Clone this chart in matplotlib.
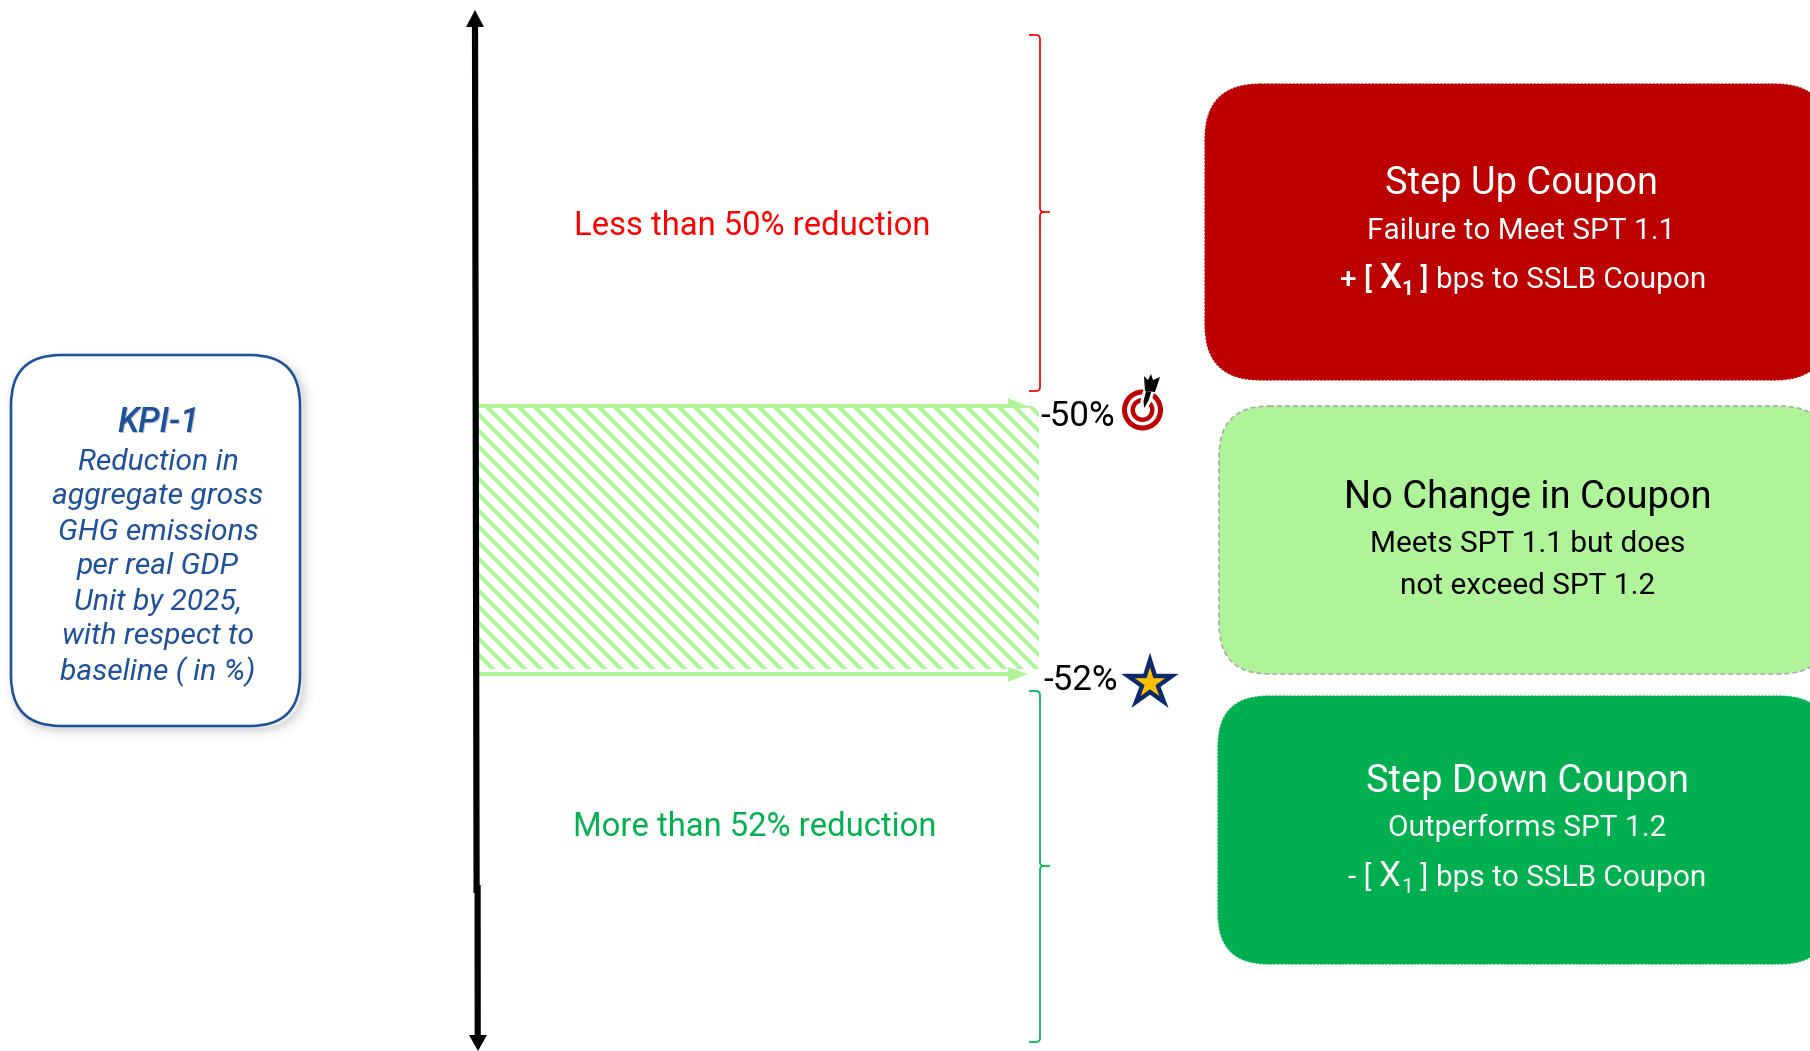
import numpy as np
import matplotlib
matplotlib.use("Agg")
import matplotlib.pyplot as plt
from matplotlib.markers import MarkerStyle
from matplotlib.patches import Circle, FancyBboxPatch, PathPatch, Polygon, Rectangle
from matplotlib.path import Path

# Reduction thresholds and their labels
thresholds = [-50, -52]
threshold_labels = ["-50%", "-52%"]
zone_labels = ["Less than 50% reduction", "More than 52% reduction"]

kpi_title = "KPI-1"
kpi_lines = ["Reduction in", "aggregate gross", "GHG emissions", "per real GDP",
             "Unit by 2025,", "with respect to", "baseline ( in %)"]

card_titles = ["Step Up Coupon", "No Change in Coupon", "Step Down Coupon"]
card_lines = ["Failure to Meet SPT 1.1", ["Meets SPT 1.1 but does", "not exceed SPT 1.2"], "Outperforms SPT 1.2"]

RED, BRIGHT_RED, PALE_GREEN, GREEN, BLUE, NAVY, GOLD = (
    "#BC0000", "#FF0000", "#AFF498", "#00B050", "#1F5199", "#0F2A6B", "#FFC000")

FONT = "Roboto"
plt.rcParams["font.family"] = FONT
plt.rcParams["hatch.linewidth"] = 3.0

DPI = 96
W, H = 1810, 1051
fig = plt.figure(figsize=(W / DPI, H / DPI), dpi=DPI, facecolor="white")
ax = fig.add_axes([0, 0, 1, 1])
ax.set_xlim(0, W)
ax.set_ylim(H, 0)
ax.axis("off")


def px(v):
    return v * 72 / DPI


def y_of(pct):
    # Vertical scale of the reduction axis
    return 406 + (pct - thresholds[0]) * (672 - 406) / (thresholds[1] - thresholds[0])


def card(x0, y0, x1, y1, r, face, edge=None, **kw):
    p = FancyBboxPatch((x0 + r, y0 + r), x1 - x0 - 2 * r, y1 - y0 - 2 * r,
                       boxstyle=f"round,pad={r},rounding_size={r}",
                       fc=face, ec=edge or face, **kw)
    ax.add_patch(p)
    return p


def runs(cx, y, pieces):
    # Lays out text pieces side by side, centred on cx
    renderer = fig.canvas.get_renderer()
    items, total = [], 0
    for s, size, weight, dy, color in pieces:
        t = ax.text(0, y + dy, s, fontsize=px(size), fontweight=weight, color=color,
                    va="baseline", ha="left")
        w = t.get_window_extent(renderer).width
        items.append((t, w))
        total += w
    x = cx - total / 2
    for t, w in items:
        t.set_x(x)
        x += w


# KPI box with a soft drop shadow
for i in range(8, 0, -1):
    card(12, 358, 304 + i * 0.5, 729 + i * 0.6, 50, "#808080", alpha=0.014, lw=i * 1.4, zorder=1)
card(11, 355, 300, 726, 50, "white", BLUE, lw=px(2.6), zorder=2)

ax.text(159.5, 423.5, kpi_title, color="#9aa5b5", fontsize=px(34.5), style="italic", fontweight="medium",
        ha="center", va="center", alpha=0.7, zorder=3)
ax.text(158, 422, kpi_title, color=BLUE, fontsize=px(34.5), style="italic", fontweight="medium",
        ha="center", va="center", zorder=3)
for i, line in enumerate(kpi_lines):
    ax.text(158, 461.5 + i * 35, line, color=BLUE, fontsize=px(30), style="italic",
            ha="center", va="center", zorder=3)

# Hatched band between the two thresholds
y_top, y_bot = y_of(thresholds[0]), y_of(thresholds[1])
ax.add_patch(Rectangle((479, y_top), 1039 - 479, y_bot - y_top - 3, fc="white", ec=PALE_GREEN,
                       hatch="\\\\", lw=0, zorder=1))
ax.fill_between([479, 1012], y_top - 2, y_top + 2, color=PALE_GREEN, lw=0, zorder=2)
ax.fill_between([479, 1012], y_bot, y_bot + 4, color=PALE_GREEN, lw=0, zorder=2)
ax.add_patch(Polygon([(1008, y_top - 8), (1032, y_top + 2), (1008, y_top + 2)], fc=PALE_GREEN, ec="none", zorder=2))
ax.add_patch(Polygon([(1008, y_bot - 5), (1028, y_bot + 2), (1008, y_bot + 10)], fc=PALE_GREEN, ec="none", zorder=2))

# Main vertical double arrow, built from two slightly offset strokes
ax.plot([475, 476.6], [24, 893], color="black", lw=px(6.2), solid_capstyle="butt", zorder=4)
ax.plot([477.6, 477.7], [885, 1038], color="black", lw=px(6.2), solid_capstyle="butt", zorder=4)
ax.add_patch(Polygon([(475, 10), (484, 27), (466, 27)], fc="black", ec="none", zorder=4))
ax.add_patch(Polygon([(478, 1051), (487, 1035), (469, 1035)], fc="black", ec="none", zorder=4))


def brace(y0, ym, y1, color):
    x, hook, tick, r = 1040, 1029, 1050, 4
    verts = [(hook, y0), (x - r, y0), (x, y0), (x, y0 + r), (x, ym - r), (x, ym), (x + r, ym), (tick, ym),
             (x + r, ym), (x, ym), (x, ym + r), (x, y1 - r), (x, y1), (x - r, y1), (hook, y1)]
    codes = [Path.MOVETO, Path.LINETO, Path.CURVE3, Path.CURVE3, Path.LINETO, Path.CURVE3, Path.CURVE3, Path.LINETO,
             Path.MOVETO, Path.CURVE3, Path.CURVE3, Path.LINETO, Path.CURVE3, Path.CURVE3, Path.LINETO]
    ax.add_patch(PathPatch(Path(verts, codes), fc="none", ec=color, lw=px(1.7), zorder=3))


brace(35, 212, 391, BRIGHT_RED)
brace(691, 866, 1042, GREEN)

ZONE, LEVEL = 32.8, 35
ax.text(752.5, 226, zone_labels[0], color=BRIGHT_RED, fontsize=px(ZONE), ha="center", va="center")
ax.text(755, 827, zone_labels[1], color=GREEN, fontsize=px(ZONE), ha="center", va="center")

ax.text(1040, 416, threshold_labels[0], color="black", fontsize=px(LEVEL), ha="left", va="center")
ax.text(1043, 681, threshold_labels[1], color="black", fontsize=px(LEVEL), ha="left", va="center")

# Target icon with a dart
for r, c in [(20.5, RED), (15.5, "white"), (12, RED), (7.5, "white")]:
    ax.add_patch(Circle((1142.5, 410), r, fc=c, ec="none", zorder=3))
ax.add_patch(Polygon([(1143, 413), (1142, 401), (1145, 389), (1153, 391), (1150, 401)],
                     fc="black", ec="white", lw=px(3), zorder=4))
ax.add_patch(Polygon([(1145, 391), (1144, 376), (1148, 380), (1151, 374), (1153, 380), (1160, 377), (1155, 392)],
                     fc="black", ec="none", zorder=4))

# Star marker beside the lower threshold
ax.plot([1149.5], [683], marker=MarkerStyle("*", joinstyle="miter"), ms=px(46), mfc=GOLD, mec=NAVY, mew=px(4.4), zorder=4)

# Outcome cards
card(1205, 84, 1830, 380, 55, RED, lw=px(1.2), ls=(0, (2, 1)))
card(1219, 406, 1830, 674, 50, PALE_GREEN, "#A6A6A6", lw=px(1.6), ls=(0, (3, 2)))
card(1218, 696, 1830, 964, 50, GREEN, lw=px(1.2), ls=(0, (2, 1)))

TITLE, BODY = 38, 29.8
ax.text(1521.5, 183, card_titles[0], color="white", fontsize=px(TITLE), ha="center", va="center")
ax.text(1521.5, 231, card_lines[0], color="white", fontsize=px(BODY), ha="center", va="center")
runs(1523, 288, [("+ [ ", BODY, "medium", 0, "white"), ("X", 35, "medium", 0, "white"),
                 ("1", 21, "bold", 7, "white"), (" ] ", BODY, "medium", 0, "white"),
                 ("bps to SSLB Coupon", BODY, "normal", 0, "white")])

ax.text(1528, 497, card_titles[1], color="black", fontsize=px(TITLE), ha="center", va="center")
for (line, y) in zip(card_lines[1], [544, 586]):
    ax.text(1528, y, line, color="black", fontsize=px(BODY), ha="center", va="center")

ax.text(1527, 781, card_titles[2], color="white", fontsize=px(TITLE), ha="center", va="center")
ax.text(1527, 828, card_lines[2], color="white", fontsize=px(BODY), ha="center", va="center")
runs(1527, 886, [("- [ ", BODY, "normal", 0, "white"), ("X", 35, "normal", 0, "white"),
                 ("1", 21, "normal", 7, "white"), (" ] ", BODY, "normal", 0, "white"),
                 ("bps to SSLB Coupon", BODY, "normal", 0, "white")])

fig.savefig("out.png", dpi=DPI)
